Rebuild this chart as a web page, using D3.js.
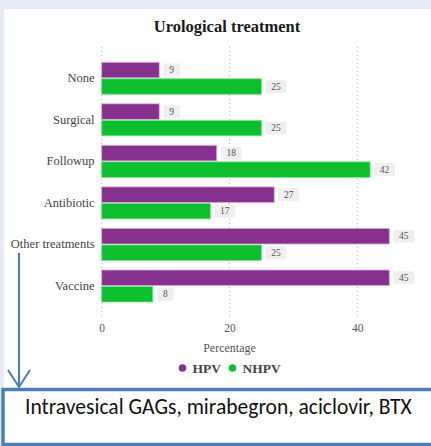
<!DOCTYPE html>
<html>
<head>
<meta charset="utf-8">
<script src="https://cdn.jsdelivr.net/npm/d3@7"></script>
<style>
  html, body { margin: 0; padding: 0; background: #e5ecf6; }
  svg { display: block; }
</style>
</head>
<body>
<div id="chart"></div>
<script>
const categories = ['None', 'Surgical', 'Followup', 'Antibiotic', 'Other treatments', 'Vaccine'];
const seriesNames = ['HPV', 'NHPV'];
const hpvValues = [9, 9, 18, 27, 45, 45];
const nhpvValues = [25, 25, 42, 17, 25, 8];
const xTicks = [0, 20, 40];
const noteText = 'Intravesical GAGs, mirabegron, aciclovir, BTX';

const width = 431;
const height = 446;
const colors = { HPV: '#87318f', NHPV: '#0dbf2f' };
const serif = '"Liberation Serif", "Times New Roman", serif';

const svg = d3.select('#chart')
    .append('svg')
    .attr('width', width)
    .attr('height', height);

// page background and white chart panel
svg.append('rect').attr('width', width).attr('height', height).attr('fill', '#e5ecf6');
svg.append('rect').attr('x', 4).attr('y', 9).attr('width', width - 4).attr('height', 380).attr('fill', '#ffffff');

const x = d3.scaleLinear().domain([0, 50]).range([101.7, 421.2]);
const y = d3.scaleBand().domain(categories).range([57.3, 307]).paddingInner(0.23).paddingOuter(0.12);
const inner = d3.scaleBand().domain(seriesNames).range([0, y.bandwidth()]).paddingInner(0.06);

// dotted grid
svg.append('g')
    .selectAll('line')
    .data(xTicks)
    .enter()
    .append('line')
    .attr('x1', d => x(d))
    .attr('x2', d => x(d))
    .attr('y1', 47)
    .attr('y2', 318)
    .attr('stroke', '#b8b8b8')
    .attr('stroke-width', 1)
    .attr('stroke-dasharray', '1,3');

// title
svg.append('text')
    .attr('x', 227)
    .attr('y', 32)
    .attr('text-anchor', 'middle')
    .attr('font-family', serif)
    .attr('font-weight', 'bold')
    .attr('font-size', 16.5)
    .attr('fill', '#1a1a1a')
    .text('Urological treatment');

const rows = categories.map((c, i) => ({ cat: c, HPV: hpvValues[i], NHPV: nhpvValues[i] }));
const bars = [];
rows.forEach(r => seriesNames.forEach(s => bars.push({ cat: r.cat, series: s, value: r[s] })));

svg.append('g')
    .selectAll('rect')
    .data(bars)
    .enter()
    .append('rect')
    .attr('x', x(0))
    .attr('y', d => y(d.cat) + inner(d.series))
    .attr('width', d => x(d.value) - x(0))
    .attr('height', inner.bandwidth())
    .attr('fill', d => colors[d.series])
    .attr('stroke', d => d.series === 'HPV' ? '#d9a6df' : '#7fe392')
    .attr('stroke-width', 0.8);

// value labels in grey boxes
const labels = svg.append('g')
    .selectAll('g')
    .data(bars)
    .enter()
    .append('g')
    .attr('transform', d => `translate(${x(d.value) + 4},${y(d.cat) + inner(d.series) + inner.bandwidth() / 2})`);

labels.append('rect')
    .attr('x', 0)
    .attr('y', -6.5)
    .attr('width', d => d.value >= 10 ? 21 : 17)
    .attr('height', 13)
    .attr('rx', 2)
    .attr('fill', '#efefef');

labels.append('text')
    .attr('x', d => d.value >= 10 ? 10.5 : 8.5)
    .attr('y', 3.2)
    .attr('text-anchor', 'middle')
    .attr('font-family', serif)
    .attr('font-size', 9.5)
    .attr('fill', '#555')
    .text(d => d.value);

// category labels
svg.append('g')
    .selectAll('text')
    .data(categories)
    .enter()
    .append('text')
    .attr('x', 94.5)
    .attr('y', d => y(d) + y.bandwidth() / 2 + 4)
    .attr('text-anchor', 'end')
    .attr('font-family', serif)
    .attr('font-size', 12.5)
    .attr('fill', '#444')
    .text(d => d);

// x axis ticks
const xAxis = d3.axisBottom(x).tickValues(xTicks).tickSize(0).tickPadding(0);
const axisG = svg.append('g')
    .attr('transform', 'translate(0,324)')
    .call(xAxis);
axisG.select('.domain').remove();
axisG.selectAll('text')
    .attr('font-family', serif)
    .attr('font-size', 11.5)
    .attr('fill', '#555');

svg.append('text')
    .attr('x', x(20))
    .attr('y', 352)
    .attr('text-anchor', 'middle')
    .attr('font-family', serif)
    .attr('font-size', 12)
    .attr('fill', '#555')
    .text('Percentage');

// legend
const legendX = [182.5, 232.5];
const legend = svg.append('g')
    .selectAll('g')
    .data(seriesNames)
    .enter()
    .append('g')
    .attr('transform', (d, i) => `translate(${legendX[i]},368)`);

legend.append('circle')
    .attr('r', 3.8)
    .attr('fill', d => colors[d]);

legend.append('text')
    .attr('x', 10)
    .attr('y', 4.8)
    .attr('font-family', serif)
    .attr('font-weight', 'bold')
    .attr('font-size', 13.5)
    .attr('fill', '#444')
    .text(d => d);

// annotation arrow and box
const blue = '#4a7ebb';
svg.append('line')
    .attr('x1', 19).attr('x2', 19)
    .attr('y1', 253).attr('y2', 386)
    .attr('stroke', blue).attr('stroke-width', 2);
svg.append('path')
    .attr('d', 'M8,370 L19,387 L30,370')
    .attr('fill', 'none')
    .attr('stroke', blue)
    .attr('stroke-width', 2);

svg.append('rect')
    .attr('x', 3)
    .attr('y', 389.5)
    .attr('width', 440)
    .attr('height', 55)
    .attr('fill', '#ffffff')
    .attr('stroke', blue)
    .attr('stroke-width', 3.5);

const note = svg.append('text')
    .attr('x', 25)
    .attr('y', 414)
    .attr('font-family', 'Carlito, Calibri, "Open Sans", sans-serif')
    .attr('font-size', 16)
    .attr('fill', '#111')
    .text(noteText);
// size the note so it spans the same width as in the picture
const noteLen = note.node().getComputedTextLength();
note.attr('font-size', 16 * 387 / noteLen);
</script>
</body>
</html>
